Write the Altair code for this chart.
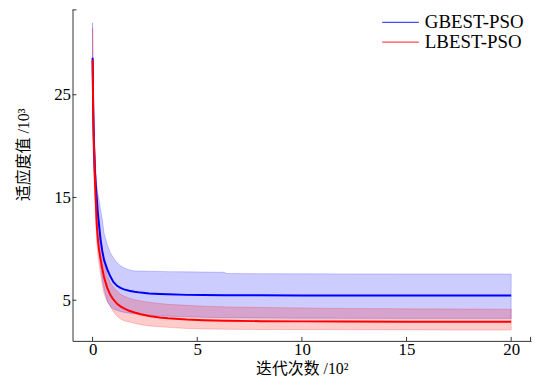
import altair as alt
import pandas as pd

# iterations (unit: 10^2)
x_vals = [0, 0.03, 0.06, 0.11, 0.15, 0.2, 0.25, 0.3, 0.38, 0.46, 0.55, 0.7, 0.85, 1.0,
          1.17, 1.33, 1.5, 1.75, 2.0, 2.3, 2.7, 3.2, 3.6, 4.5, 5.3, 6.3, 6.4, 8, 10, 12, 15, 18, 20]

gbest_mean = [28.6, 23.5, 20.6, 17.6, 16.2, 14.9, 13.5, 12.5, 10.9, 9.8, 8.9, 8.0, 7.3, 6.75,
              6.4, 6.2, 6.05, 5.92, 5.82, 5.74, 5.66, 5.6, 5.57, 5.52, 5.5, 5.49, 5.49, 5.48, 5.47, 5.46, 5.45, 5.45, 5.45]
gbest_hi = [32.0, 26.0, 22.5, 19.5, 17.8, 16.2, 15.4, 14.9, 13.8, 12.9, 11.5, 10.4, 9.6, 9.1,
            8.65, 8.35, 8.15, 7.95, 7.85, 7.84, 7.82, 7.8, 7.78, 7.76, 7.74, 7.72, 7.6, 7.58, 7.57, 7.56, 7.55, 7.55, 7.55]
gbest_lo = [25.0, 20.0, 17.8, 15.5, 13.8, 12.0, 10.8, 9.8, 8.3, 7.1, 6.1, 4.9, 4.4, 4.15,
            4.0, 3.9, 3.82, 3.74, 3.68, 3.62, 3.55, 3.48, 3.45, 3.38, 3.33, 3.3, 3.3, 3.27, 3.25, 3.24, 3.23, 3.23, 3.23]

lbest_mean = [28.4, 23.0, 20.3, 17.0, 14.9, 12.3, 11.0, 10.0, 9.0, 8.1, 7.2, 6.2, 5.5, 5.05,
              4.65, 4.4, 4.2, 3.97, 3.8, 3.63, 3.46, 3.32, 3.24, 3.12, 3.05, 3.0, 3.0, 2.96, 2.94, 2.92, 2.91, 2.9, 2.9]
lbest_hi = [31.5, 25.0, 21.8, 18.6, 16.8, 15.0, 13.6, 12.5, 11.3, 10.0, 8.8, 7.4, 6.7, 6.25,
            5.9, 5.6, 5.4, 5.2, 5.05, 4.93, 4.8, 4.68, 4.6, 4.5, 4.42, 4.36, 4.35, 4.3, 4.25, 4.2, 4.16, 4.14, 4.13]
lbest_lo = [25.5, 19.5, 17.0, 14.5, 12.5, 10.6, 9.5, 8.6, 7.5, 6.6, 5.6, 4.9, 4.4, 3.85,
            3.45, 3.18, 3.0, 2.88, 2.75, 2.62, 2.5, 2.42, 2.36, 2.25, 2.2, 2.18, 2.17, 2.15, 2.13, 2.12, 2.11, 2.1, 2.1]

series_names = ["GBEST-PSO", "LBEST-PSO"]
series_colors = ["#0000ff", "#ff0000"]
x_ticks = [0, 5, 10, 15, 20]
y_ticks = [5, 15, 25]

frames = []
for name, m, lo, hi in [(series_names[0], gbest_mean, gbest_lo, gbest_hi),
                        (series_names[1], lbest_mean, lbest_lo, lbest_hi)]:
    frames.append(pd.DataFrame({"x": x_vals, "mean": m, "lo": lo, "hi": hi, "series": name}))
df = pd.concat(frames, ignore_index=True)

W, H = 462, 334
SERIF = "'Liberation Serif', 'Noto Sans CJK SC'"

xs = alt.Scale(domain=[-0.96, 20.95], nice=False, zero=False)
ys = alt.Scale(domain=[1.04, 33.31], nice=False, zero=False)

xaxis = alt.Axis(values=x_ticks, title="迭代次数 /10²", ticks=False, tickSize=0,
                 labelPadding=1, grid=False, titleY=28, titleBaseline="middle")
yaxis = alt.Axis(values=y_ticks, title="适应度值 /10³", ticks=False, tickSize=0,
                 labelPadding=2, grid=False, titleX=-49, titleY=146,
                 titleAlign="center", titleBaseline="middle", titleAngle=-90)

layers = []
for name, color in zip(series_names, series_colors):
    layers.append(
        alt.Chart(df).transform_filter(alt.datum.series == name)
        .mark_area(color=color, fillOpacity=0.2, stroke=color, strokeOpacity=0.2, strokeWidth=1)
        .encode(x=alt.X("x:Q", scale=xs, axis=xaxis),
                y=alt.Y("lo:Q", scale=ys, axis=yaxis),
                y2="hi:Q")
    )
for name, color in zip(series_names, series_colors):
    layers.append(
        alt.Chart(df).transform_filter(alt.datum.series == name)
        .mark_line(color=color, strokeWidth=2)
        .encode(x=alt.X("x:Q", scale=xs, axis=xaxis),
                y=alt.Y("mean:Q", scale=ys, axis=yaxis))
    )

# inward ticks
layers.append(
    alt.Chart(pd.DataFrame({"x": x_ticks})).mark_rule(color="#333333", strokeWidth=1)
    .encode(x=alt.X("x:Q", scale=xs, axis=xaxis), y=alt.value(H), y2=alt.value(H - 4))
)
layers.append(
    alt.Chart(pd.DataFrame({"mean": y_ticks})).mark_rule(color="#333333", strokeWidth=1)
    .encode(y=alt.Y("mean:Q", scale=ys, axis=yaxis), x=alt.value(0), x2=alt.value(4))
)
one = pd.DataFrame({"a": [0]})
layers.append(alt.Chart(one).mark_rule(color="#333333", strokeWidth=1)
              .encode(x=alt.value(0), x2=alt.value(4), y=alt.value(0.5)))
layers.append(alt.Chart(one).mark_rule(color="#333333", strokeWidth=1)
              .encode(x=alt.value(W - 0.5), y=alt.value(H), y2=alt.value(H - 4)))

# legend
for i, (name, color) in enumerate(zip(series_names, series_colors)):
    layers.append(alt.Chart(pd.DataFrame({"label": [name]})).mark_rule(color=color, strokeWidth=1.3, opacity=0.7)
                  .encode(x=alt.value(312), x2=alt.value(349), y=alt.value(13 + 20 * i)))
    layers.append(alt.Chart(pd.DataFrame({"label": [name]}))
                  .mark_text(align="left", baseline="middle", font="Liberation Serif", fontSize=19, color="black")
                  .encode(x=alt.value(355), y=alt.value(13 + 20 * i), text="label:N"))

chart = alt.layer(*layers).properties(
    width=W, height=H,
    padding={"left": 65, "top": 0, "right": 8, "bottom": 38},
    autosize=alt.AutoSizeParams(type="none"),
).configure_view(stroke=None).configure_axis(
    domainColor="#333333", domainWidth=1,
    labelFont="Liberation Serif", labelFontSize=17, labelColor="black",
    titleFont=SERIF, titleFontSize=16, titleFontWeight="normal", titleColor="black",
)

chart.save("out.html", embed_options={"renderer": "svg", "actions": False})
